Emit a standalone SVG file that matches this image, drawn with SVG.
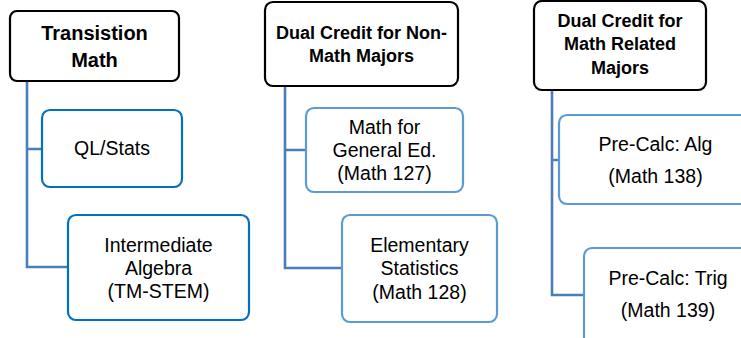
<svg xmlns="http://www.w3.org/2000/svg" width="741" height="338" viewBox="0 0 741 338">
<style>
.bg{fill:#ffffff}
.head{fill:#ffffff;stroke:#000000;stroke-width:2.2}
.c1{fill:#ffffff;stroke:#0070C0;stroke-width:2.2}
.c2{fill:#ffffff;stroke:#5B9BD5;stroke-width:2.2}
.conn{fill:none;stroke:#4A7EBB;stroke-width:2.6}
text{font-family:"Liberation Sans",Arial,sans-serif;fill:#000000;text-anchor:middle}
.hb{font-weight:bold;font-size:20px}
.hs{font-weight:bold;font-size:18px}
.t{font-size:19.5px}
</style>
<rect class="bg" x="0" y="0" width="741" height="338"/>
<g id="connectors">
<path class="conn" d="M27,81 V267 H68 M27,149 H42"/>
<path class="conn" d="M285,86 V268 H342 M285,150 H306"/>
<path class="conn" d="M552,90 V295 H584 M552,160 H559"/>
</g>
<g id="transition-math">
<rect class="head" x="10" y="11" width="169" height="70" rx="7"/>
<text class="hb" x="94.5" y="40">Transistion</text>
<text class="hb" x="94.5" y="67">Math</text>
</g>
<g id="ql-stats">
<rect class="c1" x="42" y="110" width="140" height="77" rx="8"/>
<text class="t" x="112" y="155">QL/Stats</text>
</g>
<g id="intermediate-algebra">
<rect class="c1" x="68" y="215" width="181" height="105" rx="8"/>
<text class="t" x="158.5" y="252">Intermediate</text>
<text class="t" x="158.5" y="275">Algebra</text>
<text class="t" x="158.5" y="298">(TM-STEM)</text>
</g>
<g id="dual-non-math">
<rect class="head" x="265" y="2" width="193" height="84" rx="8"/>
<text class="hs" x="361.5" y="39">Dual Credit for Non-</text>
<text class="hs" x="361.5" y="62">Math Majors</text>
</g>
<g id="math-127">
<rect class="c2" x="306" y="108" width="157" height="84" rx="8"/>
<text class="t" x="384.5" y="134">Math for</text>
<text class="t" x="384.5" y="157">General Ed.</text>
<text class="t" x="384.5" y="180">(Math 127)</text>
</g>
<g id="math-128">
<rect class="c2" x="342" y="215" width="155" height="107" rx="8"/>
<text class="t" x="419.5" y="252">Elementary</text>
<text class="t" x="419.5" y="275">Statistics</text>
<text class="t" x="419.5" y="299">(Math 128)</text>
</g>
<g id="dual-math-related">
<rect class="head" x="534" y="1" width="172" height="89" rx="8"/>
<text class="hs" x="620" y="27">Dual Credit for</text>
<text class="hs" x="620" y="50">Math Related</text>
<text class="hs" x="620" y="74">Majors</text>
</g>
<g id="math-138">
<rect class="c2" x="559" y="115" width="195" height="89" rx="8"/>
<text class="t" x="655.5" y="151">Pre-Calc: Alg</text>
<text class="t" x="655.5" y="183">(Math 138)</text>
</g>
<g id="math-139">
<rect class="c2" x="584" y="248" width="180" height="110" rx="8"/>
<text class="t" x="668" y="285">Pre-Calc: Trig</text>
<text class="t" x="668" y="317">(Math 139)</text>
</g>
</svg>
